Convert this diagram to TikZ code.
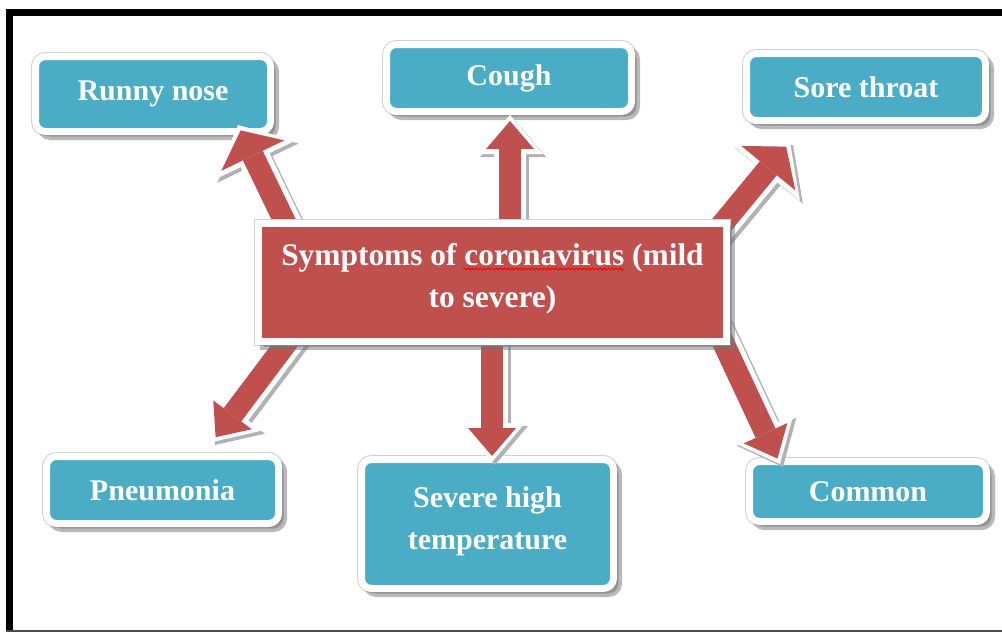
\documentclass[tikz,border=0pt]{standalone}
\usepackage{fontspec}
\setmainfont{Liberation Serif}
\usetikzlibrary{arrows.meta,calc,shadows,decorations.pathmorphing}
\pgfdeclarelayer{background}
\pgfdeclarelayer{front}
\pgfsetlayers{background,main,front}
\definecolor{leafteal}{RGB}{75,172,198}
\definecolor{hubred}{RGB}{192,80,77}
\tikzset{
  edge shadow/.style={line width=32pt, draw=black!30,
    -{Triangle[width=#1,length=39pt,line width=0pt]}},
  edge rim/.style={line width=32pt, draw=white,
    -{Triangle[width=#1,length=39pt,line width=0pt]}},
  edge body/.style={line width=22pt, draw=hubred, shorten >=6pt,
    -{Triangle[width=#1,length=28pt,line width=0pt]}},
  box shadows/.style={
    general shadow={fill=black!18,draw=black!18,line width=9pt},
    drop shadow={shadow xshift=5pt,shadow yshift=-5pt,fill=black!55,draw=black!55,
      line width=7pt,opacity=0.5}}
}

\begin{document}
\begin{tikzpicture}[x=1pt,y=-1pt,
  leaf/.style={rectangle,rounded corners=10pt,draw=white,line width=7pt,fill=leafteal,
    text=white,font=\fontsize{30}{42}\selectfont\bfseries,align=center,
    inner sep=0pt,outer sep=0pt,box shadows},
  hub/.style={rectangle,draw=white,line width=7pt,fill=hubred,
    text=white,font=\fontsize{31.4}{42}\selectfont\bfseries,align=center,
    inner sep=0pt,outer sep=0pt,box shadows}]

  \useasboundingbox (0,0) rectangle (1002,632);

  % symptom boxes
  \node[leaf,minimum width=235pt,minimum height=75pt] (runny) at (153,94) {Runny nose};
  \node[leaf,minimum width=245pt,minimum height=67pt] (cough) at (509,78) {Cough};
  \node[leaf,minimum width=239pt,minimum height=67pt] (sore) at (866,87) {Sore throat};
  \node[leaf,minimum width=232pt,minimum height=67pt] (pneu) at (162.5,490) {Pneumonia};
  \node[leaf,minimum width=252pt,minimum height=129pt,text depth=12pt] (severe) at (487.5,524)
    {Severe high\\temperature};
  \node[leaf,minimum width=237pt,minimum height=60pt] (common) at (868,491.5) {Common};

  \begin{pgfonlayer}{front}
    \node[hub,minimum width=468pt,minimum height=118pt,text depth=15pt] (hub) at (492.5,282.5)
      {Symptoms of coronavirus (mild\\to severe)};
    \draw[red,line width=0.8pt,decorate,decoration={snake,amplitude=1pt,segment length=4pt}]
      (463,269) -- (624,269);
  \end{pgfonlayer}

  % arrow ends
  \coordinate (runny-tail) at ($(hub.north west)+(37.5,21.5)$);
  \coordinate (runny-tip) at ($(runny.south east)+(-32.5,-6.5)$);
  \coordinate (cough-tail) at ($(hub.north)+(17.5,21.5)$);
  \coordinate (cough-tip) at ($(cough.south)+(1,3.5)$);
  \coordinate (sore-tail) at ($(hub.north east)+(-21.5,21.5)$);
  \coordinate (sore-tip) at ($(sore.south west)+(43.5,21.5)$);
  \coordinate (pneu-tail) at ($(hub.south west)+(41.5,-16.5)$);
  \coordinate (pneu-tip) at ($(pneu.north west)+(165.5,-14.5)$);
  \coordinate (severe-tail) at ($(hub.south)+(-0.5,-16.5)$);
  \coordinate (severe-tip) at ($(severe.north)+(4.5,2.5)$);
  \coordinate (common-tail) at ($(hub.south east)+(-11.5,-16.5)$);
  \coordinate (common-tip) at ($(common.north west)+(30.5,2.5)$);

  \foreach \leaf/\hw/\ow in {runny/70pt/90pt,cough/48pt/66pt,sore/70pt/90pt,
                             pneu/48pt/66pt,severe/48pt/66pt,common/48pt/66pt} {
    \draw[edge shadow=\ow] ([shift={(3,3)}]\leaf-tail) -- ([shift={(3,3)}]\leaf-tip);
    \draw[edge rim=\ow] (\leaf-tail) -- (\leaf-tip);
    \draw[edge body=\hw] (\leaf-tail) -- (\leaf-tip);
  }

  % frame
  \begin{pgfonlayer}{background}
    \fill[black] (6,9) rectangle (1002,16);
    \fill[black] (6,9) rectangle (13,631);
    \fill[black!70] (6,629.5) rectangle (1002,631.5);
  \end{pgfonlayer}

\end{tikzpicture}
\end{document}
